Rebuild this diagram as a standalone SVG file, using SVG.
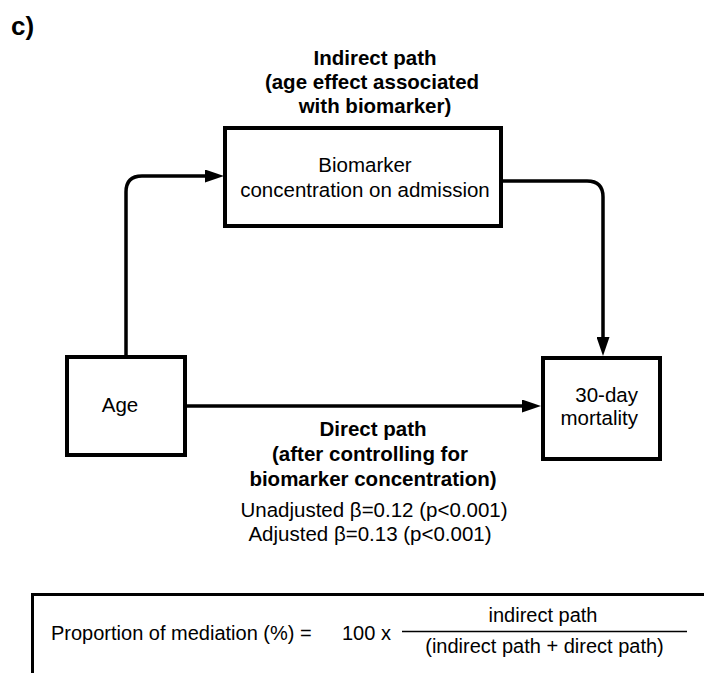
<svg xmlns="http://www.w3.org/2000/svg" width="704" height="673" viewBox="0 0 704 673">
<style>
.t{font-family:"Liberation Sans",Arial,sans-serif;font-size:20.5px;fill:#000}
.b{font-weight:bold}
.f{font-size:20px}
.box{fill:#fff;stroke:#000;stroke-width:4}
.con{fill:none;stroke:#000;stroke-width:3.5}
</style>
<defs>
<marker id="ah" markerUnits="userSpaceOnUse" markerWidth="19" markerHeight="13" refX="8" refY="6.5" orient="auto" viewBox="0 0 19 13">
<path d="M0,0 L19,6.5 L0,13 z" fill="#000"/>
</marker>
</defs>
<rect width="704" height="673" fill="#fff"/>
<text class="t b" x="11" y="35" style="font-size:26px">c)</text>
<g id="indirect-label">
<text class="t b" x="375" y="65" text-anchor="middle">Indirect path</text>
<text class="t b" x="372" y="89" text-anchor="middle">(age effect associated</text>
<text class="t b" x="375" y="113" text-anchor="middle">with biomarker)</text>
</g>
<g id="connectors">
<path class="con" d="M126,355 V192 Q126,176 142,176 H213" marker-end="url(#ah)"/>
<path class="con" d="M503,181 H587 Q603,181 603,197 V345" marker-end="url(#ah)"/>
<path class="con" d="M187,406 H530" marker-end="url(#ah)"/>
</g>
<g id="biomarker">
<rect class="box" x="225" y="128" width="276" height="98"/>
<text class="t" x="365" y="172" text-anchor="middle">Biomarker</text>
<text class="t" x="365" y="197" text-anchor="middle">concentration on admission</text>
</g>
<g id="age">
<rect class="box" x="67" y="357" width="118" height="98"/>
<text class="t" x="120" y="412" text-anchor="middle">Age</text>
</g>
<g id="mortality">
<rect class="box" x="543" y="358" width="117" height="101"/>
<text class="t" x="638" y="402" text-anchor="end">30-day</text>
<text class="t" x="638" y="425" text-anchor="end">mortality</text>
</g>
<g id="direct-label">
<text class="t b" x="373" y="436" text-anchor="middle">Direct path</text>
<text class="t b" x="370" y="461" text-anchor="middle">(after controlling for</text>
<text class="t b" x="373" y="486" text-anchor="middle">biomarker concentration)</text>
<text class="t" x="374" y="517" text-anchor="middle">Unadjusted β=0.12 (p&lt;0.001)</text>
<text class="t" x="370" y="541" text-anchor="middle">Adjusted β=0.13 (p&lt;0.001)</text>
</g>
<g id="formula">
<path d="M32.5,680 V594.5 H710" fill="none" stroke="#000" stroke-width="3"/>
<text class="t f" x="51" y="640">Proportion of mediation (%) =</text>
<text class="t f" x="342" y="640">100 x</text>
<line x1="402" y1="631.5" x2="687" y2="631.5" stroke="#000" stroke-width="1.5"/>
<text class="t f" x="543" y="622" text-anchor="middle">indirect path</text>
<text class="t f" x="544.5" y="653" text-anchor="middle">(indirect path + direct path)</text>
</g>
</svg>
